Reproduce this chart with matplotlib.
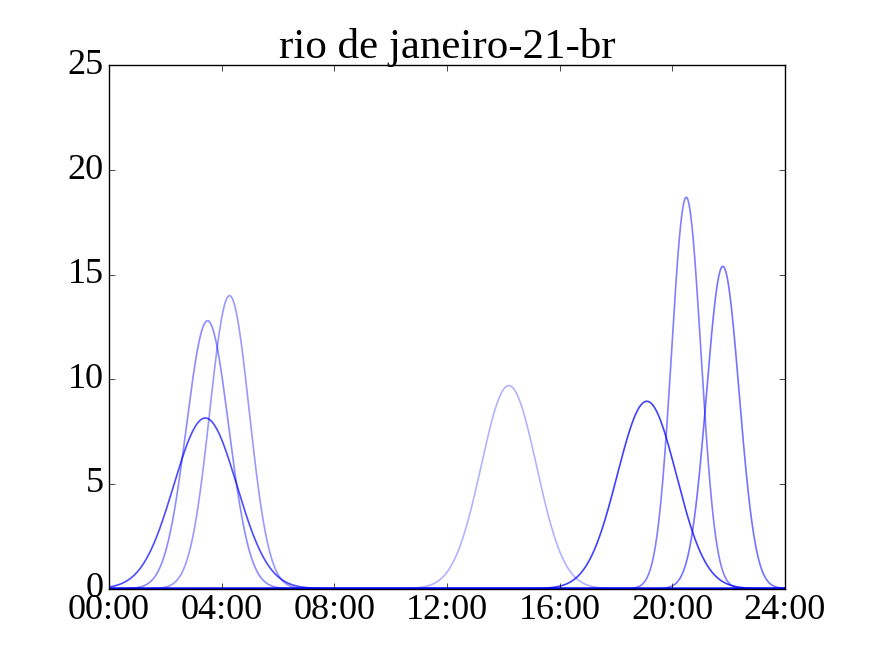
import numpy as np
import matplotlib
matplotlib.use("Agg")
import matplotlib.pyplot as plt

plt.style.use("classic")
plt.rcParams["font.family"] = ["Liberation Serif", "DejaVu Serif"]

title = "rio de janeiro-21-br"
x_ticks = [0, 4, 8, 12, 16, 20, 24]
x_labels = ["00:00", "04:00", "08:00", "12:00", "16:00", "20:00", "24:00"]
y_ticks = [0, 5, 10, 15, 20, 25]

# peak parameters (hours, height, spread in hours, opacity)
centers = [3.42, 3.50, 4.28, 14.2, 19.1, 20.5, 21.8]
heights = [8.15, 12.8, 14.0, 9.7, 8.95, 18.7, 15.4]
spreads = [1.12, 0.75, 0.70, 0.98, 1.05, 0.52, 0.58]
alphas = [0.7, 0.45, 0.4, 0.3, 0.75, 0.5, 0.55]

fig = plt.figure(figsize=(8.72, 6.54), dpi=100)
ax = fig.add_subplot(111)

t = np.linspace(0, 24, 1441)
ax.plot(t, np.zeros_like(t), color="blue", lw=1.5)
for c, h, s, a in zip(centers, heights, spreads, alphas):
    ax.plot(t, h * np.exp(-0.5 * ((t - c) / s) ** 2), color="blue", alpha=a, lw=1.2)

ax.set_xlim(0, 24)
ax.set_ylim(0, 25)
ax.set_xticks(x_ticks)
ax.set_xticklabels(x_labels)
ax.set_yticks(y_ticks)
ax.tick_params(labelsize=26)
ax.set_title(title, fontsize=31)

fig.savefig("out.png", dpi=100)
